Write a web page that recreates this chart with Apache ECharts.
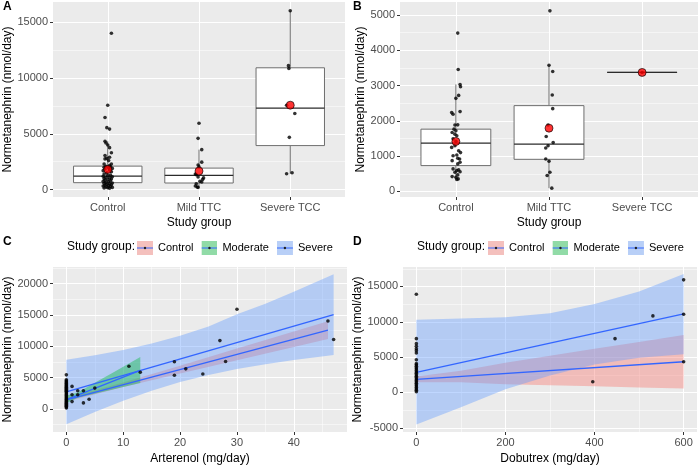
<!DOCTYPE html>
<html>
<head>
<meta charset="utf-8">
<script src="https://cdn.jsdelivr.net/npm/echarts@6/dist/echarts.min.js"></script>
<style>
  html, body { margin: 0; padding: 0; background: #fff; }
  #main { width: 699px; height: 465px; }
</style>
</head>
<body>
<div id="main"></div>
<script>
// ---- data ----
var groupsAB = ['Control', 'Mild TTC', 'Severe TCC'];
var legendNames = ['Control', 'Moderate', 'Severe'];

// box stats: [x, lower whisker, q1, median, q3, upper whisker]
var boxA = [[1, 120, 622, 1215, 2105, 4330], [2, 200, 593, 1275, 1927, 3580], [3, 1420, 3943, 7293, 10910, 16010]];
var meanA = [[1, 1808], [2, 1660], [3, 7560]];
var ctrlA = [[1.04, 14000], [1.00, 7550], [0.97, 6460], [0.99, 5550], [1.02, 5420], [0.97, 4330], [0.98, 4180], [1.00, 4000],
  [1.02, 3760], [1.04, 3300], [0.97, 3050], [1.02, 2900], [0.99, 2800], [0.97, 2750], [1.01, 2600], [1.04, 2300], [0.96, 2300],
  [1.02, 2150], [0.98, 2100], [1.03, 2050], [0.96, 2000], [1.01, 1950], [1.05, 1900], [0.97, 1850], [1.02, 1750], [0.95, 1700],
  [1.04, 1600], [0.99, 1500], [0.96, 1400], [1.03, 1300], [1.00, 1250], [0.95, 1200], [1.05, 1150], [0.98, 1100], [1.02, 1050],
  [0.96, 1000], [1.04, 950], [1.00, 900], [0.97, 850], [1.03, 800], [0.95, 750], [1.01, 700], [0.98, 650], [1.05, 600],
  [0.96, 560], [1.02, 520], [0.99, 480], [1.04, 440], [0.97, 400], [1.01, 360], [0.95, 320], [1.03, 280], [0.98, 240],
  [1.05, 200], [1.00, 170], [0.96, 150], [1.02, 120]];
var mildA = [[2.00, 5950], [1.99, 4590], [2.03, 3580], [2.03, 2460], [1.99, 2200], [2.00, 2050], [1.96, 1400], [1.97, 1330],
  [1.99, 1125], [2.05, 1050], [2.04, 915], [2.01, 740], [2.03, 680], [1.97, 530], [1.96, 330], [1.98, 240], [1.99, 200]];
var sevA = [[3.00, 16010], [2.98, 11100], [2.985, 10850], [2.96, 7560], [3.05, 6820], [2.99, 4680], [2.96, 1420], [3.02, 1510]];

var boxB = [[1, 340, 732, 1370, 1764, 3030], [2, 94, 910, 1341, 2430, 3574], [3, 3370, 3370, 3370, 3370, 3370]];
var meanB = [[1, 1416], [2, 1792], [3, 3370]];
var ctrlB = [[1.02, 4484], [1.025, 3452], [1.045, 3030], [1.05, 2964], [1.03, 2720], [1.00, 2636], [1.045, 2261], [0.955, 2233],
  [0.97, 2186], [1.02, 1886], [0.99, 1880], [0.98, 1764], [1.00, 1720], [0.96, 1670], [0.99, 1623], [1.01, 1576], [0.97, 1490],
  [1.00, 1420], [0.99, 1295], [0.955, 1248], [1.03, 1154], [1.05, 1100], [1.01, 1032], [0.97, 1013], [1.04, 919], [1.02, 940],
  [0.96, 872], [1.045, 825], [1.02, 780], [0.97, 638], [1.01, 591], [1.03, 610], [0.99, 544], [1.045, 560], [1.02, 469],
  [1.00, 403], [1.025, 356], [1.01, 340], [0.96, 420]];
var mildB = [[2.01, 5113], [2.00, 3574], [2.04, 3396], [2.035, 2730], [2.04, 2345], [1.99, 1880], [1.97, 1557], [2.045, 1388],
  [1.99, 1295], [1.965, 1229], [1.965, 919], [2.00, 854], [2.01, 544], [1.98, 450], [2.03, 94]];
var sevB = [[3.00, 3370]];

// panel C: arterenol vs normetanephrin
var ptsC = [[0, 5450], [0, 4650], [0, 4500], [0, 4350], [0, 4200], [0, 4050], [0, 3900], [0, 3750], [0, 3600], [0, 3450],
  [0, 3300], [0, 3150], [0, 3000], [0, 2850], [0, 2700], [0, 2550], [0, 2400], [0, 2250], [0, 2100], [0, 1950], [0, 1800],
  [0, 1650], [0, 1500], [0, 1350], [0, 1200], [0, 1050], [0, 900], [0, 750], [0, 600], [0, 450], [0, 300], [0, 150],
  [1, 3600], [1, 2260], [1, 1180], [2, 2900], [2, 2260], [3, 2900], [3, 970], [4, 1560], [5, 3330], [11, 6830], [13, 5860],
  [19, 7530], [19, 5380], [21, 6400], [24, 5590], [27, 10910], [28, 7580], [30, 15900], [46, 14030], [47, 11080]];
// ribbons: [x, lower, upper]
var ctrlRibC = [[0, 1150, 1750], [10, 3500, 4240], [20, 5680, 6900], [30, 7780, 9640], [40, 9900, 12360], [46, 11160, 14000]];
var sevRibC = [[0, -2450, 7850], [5, -470, 8570], [10, 1310, 9410], [15, 2910, 10430], [20, 4290, 11670], [25, 5430, 13150],
  [30, 6360, 15100], [35, 7135, 16800], [40, 7800, 18700], [47, 8600, 21500]];
var modRibC = [[0, 900, 2100], [2, 1800, 2640], [5, 2440, 4180], [8, 3080, 5720], [10, 3500, 6740], [13, 4140, 8280]];
var ctrlFitC = [[0, 1450], [46, 12580]];
var sevFitC = [[0, 2740], [47, 15050]];
var modFitC = [[0, 1500], [13, 6150]];

// panel D: dobutrex vs normetanephrin
var ptsD = [[0, 13900], [0, 7610], [0, 6900], [0, 6520], [0, 6190], [0, 5910], [0, 5580], [0, 4630], [0, 4070], [0, 3900],
  [0, 3700], [0, 3500], [0, 3300], [0, 3100], [0, 2900], [0, 2700], [0, 2500], [0, 2300], [0, 2100], [0, 1900], [0, 1700],
  [0, 1500], [0, 1300], [0, 1100], [0, 900], [0, 700], [0, 500], [0, 300], [0, 100],
  [396, 1510], [446, 7610], [531, 10830], [600, 15930], [600, 11060], [600, 4350]];
var ctrlRibD = [[0, 1440, 2240], [100, 1450, 3060], [200, 1150, 4200], [300, 1000, 5190], [400, 860, 6170], [500, 710, 7150], [600, 565, 8135]];
var sevRibD = [[0, -4550, 10300], [100, -2100, 10450], [200, 450, 10650], [300, 2400, 11200], [400, 3950, 12500], [500, 4900, 14300], [600, 5400, 16750]];
var ctrlFitD = [[0, 1840], [600, 4350]];
var sevFitD = [[0, 2840], [600, 11110]];

// tick values
var catTicks = [1, 2, 3];
var ticksA = [0, 5000, 10000, 15000], minorA = [2500, 7500, 12500];
var ticksB = [0, 1000, 2000, 3000, 4000, 5000], minorB = [500, 1500, 2500, 3500, 4500];
var ticksCx = [0, 10, 20, 30, 40], minorCx = [5, 15, 25, 35, 45];
var ticksCy = [0, 5000, 10000, 15000, 20000], minorCy = [-2500, 2500, 7500, 12500, 17500, 22500];
var ticksDx = [0, 200, 400, 600], minorDx = [100, 300, 500];
var ticksDy = [-5000, 0, 5000, 10000, 15000], minorDy = [-2500, 2500, 7500, 12500, 17500];

// ---- styling helpers ----
var font = 'Liberation Sans, Arial, sans-serif';
var fills = {Control: 'rgba(248,118,109,0.4)', Moderate: 'rgba(0,186,56,0.4)', Severe: 'rgba(97,156,255,0.4)'};
var fitColor = '#3366ff';

function fmtNum(v) { return String(v); }
function fmtGroup(v) { return groupsAB[v - 1]; }

function mainAxis(grid, min, max, ticks, fmt, name, gap, pos) {
    return {
        type: 'value', gridIndex: grid, min: min, max: max, position: pos,
        name: name, nameLocation: 'middle', nameGap: gap,
        nameTextStyle: {color: '#000', fontSize: 12, fontFamily: font},
        axisLine: {show: false, onZero: false},
        axisTick: {show: true, length: 3, customValues: ticks, lineStyle: {color: '#333', width: 1}},
        axisLabel: {customValues: ticks, formatter: fmt, color: '#4d4d4d', fontSize: 11, margin: 5, fontFamily: font},
        splitLine: {show: true, lineStyle: {color: '#fff', width: 1.1}},
        minorSplitLine: {show: false}
    };
}
function minorAxis(grid, min, max, minor, pos) {
    return {
        type: 'value', gridIndex: grid, min: min, max: max, position: pos,
        axisLine: {show: false, onZero: false},
        axisTick: {show: false, customValues: minor},
        axisLabel: {show: false, customValues: minor},
        splitLine: {show: true, lineStyle: {color: '#fff', width: 0.5}}
    };
}

function renderBox(params, api) {
    var x = api.value(0), hw = 0.375;
    var lo = api.coord([x - hw, api.value(2)]);
    var hi = api.coord([x + hw, api.value(4)]);
    var top = api.coord([x, api.value(5)]);
    var bot = api.coord([x, api.value(1)]);
    var mL = api.coord([x - hw, api.value(3)]);
    var mR = api.coord([x + hw, api.value(3)]);
    var edge = {stroke: '#6e6e6e', lineWidth: 1, fill: null};
    return {type: 'group', children: [
        {type: 'line', shape: {x1: top[0], y1: top[1], x2: top[0], y2: hi[1]}, style: edge},
        {type: 'line', shape: {x1: bot[0], y1: bot[1], x2: bot[0], y2: lo[1]}, style: edge},
        {type: 'rect', shape: {x: lo[0], y: hi[1], width: hi[0] - lo[0], height: lo[1] - hi[1]},
            style: {fill: '#fff', stroke: '#6e6e6e', lineWidth: 1}},
        {type: 'line', shape: {x1: mL[0], y1: mL[1], x2: mR[0], y2: mR[1]}, style: {stroke: '#2b2b2b', lineWidth: 1.3}}
    ]};
}

function boxPanel(box, pts, means, xi, yi) {
    return [
        {type: 'custom', xAxisIndex: xi, yAxisIndex: yi, data: box, renderItem: renderBox,
            encode: {x: 0, y: [1, 2, 3, 4, 5]}, silent: true, z: 2},
        {type: 'scatter', xAxisIndex: xi, yAxisIndex: yi, data: pts, symbolSize: 3.6,
            itemStyle: {color: '#000'}, silent: true, z: 3},
        {type: 'scatter', xAxisIndex: xi, yAxisIndex: yi, data: means, symbolSize: 8,
            itemStyle: {color: '#ff0000', borderColor: '#000', borderWidth: 0.8}, silent: true, z: 4}
    ];
}

// confidence band: one polygon through all [x, lower, upper] rows
function ribbon(rows, name, xi, yi) {
    return {
        type: 'custom', name: name, xAxisIndex: xi, yAxisIndex: yi, data: rows,
        encode: {x: 0, y: [1, 2]}, silent: true, clip: true, z: 2,
        itemStyle: {color: fills[name]},
        renderItem: function (params, api) {
            if (params.dataIndexInside !== 0) return null;
            var upper = [], lower = [];
            for (var i = 0; i < params.dataInsideLength; i++) {
                upper.push(api.coord([api.value(0, i), api.value(2, i)]));
                lower.unshift(api.coord([api.value(0, i), api.value(1, i)]));
            }
            return {type: 'polygon', shape: {points: upper.concat(lower)}, style: {fill: fills[name]}};
        }
    };
}

function fit(data, xi, yi) {
    return {type: 'line', xAxisIndex: xi, yAxisIndex: yi, data: data, symbol: 'none', silent: true,
        lineStyle: {color: fitColor, width: 1.4}, z: 3};
}

function keyIcon(fill) {
    var svg = '<svg xmlns="http://www.w3.org/2000/svg" width="32" height="28" viewBox="0 0 16 14">' +
        '<rect width="16" height="14" fill="#f2f2f2"/>' +
        '<rect width="16" height="14" fill="' + fill + '"/>' +
        '<line x1="0" y1="7" x2="16" y2="7" stroke="#3366ff" stroke-width="1"/>' +
        '<circle cx="8" cy="7" r="1.2" fill="#222"/></svg>';
    return 'image://data:image/svg+xml;charset=utf-8,' + encodeURIComponent(svg);
}

function legendAt(left) {
    return {
        left: left, top: 241, orient: 'horizontal', itemWidth: 16, itemHeight: 14, itemGap: 8,
        selectedMode: false, padding: 0,
        textStyle: {fontSize: 11, color: '#000', fontFamily: font},
        data: legendNames.map(function (n) { return {name: n, icon: keyIcon(fills[n])}; })
    };
}

function tag(text, left, top) {
    return {text: text, left: left, top: top, padding: 0,
        textStyle: {fontSize: 12, fontWeight: 'bold', color: '#000', fontFamily: font}};
}

var gridStyle = {show: true, backgroundColor: '#ebebeb', borderWidth: 0, containLabel: false, outerBoundsMode: 'none'};

var chart = echarts.init(document.getElementById('main'), null, {renderer: 'canvas'});
chart.setOption({
    animation: false,
    backgroundColor: '#fff',
    title: [
        tag('A', 3, 1), tag('B', 353, 1), tag('C', 3, 236), tag('D', 353, 236),
        {text: 'Study group:', left: 67, top: 241, padding: 0, textStyle: {fontSize: 12, fontWeight: 'normal', color: '#000', fontFamily: font}},
        {text: 'Study group:', left: 417, top: 241, padding: 0, textStyle: {fontSize: 12, fontWeight: 'normal', color: '#000', fontFamily: font}}
    ],
    legend: [legendAt(137), legendAt(488)],
    grid: [
        echarts.util.extend({left: 53, right: 354, top: 2, bottom: 268}, gridStyle),
        echarts.util.extend({left: 400, right: 1, top: 2, bottom: 268}, gridStyle),
        echarts.util.extend({left: 53, right: 352, top: 267, bottom: 33}, gridStyle),
        echarts.util.extend({left: 403, right: 2, top: 267, bottom: 33}, gridStyle)
    ],
    xAxis: [
        mainAxis(0, 0.4, 3.6, catTicks, fmtGroup, 'Study group', 20, 'bottom'),
        mainAxis(1, 0.4, 3.6, catTicks, fmtGroup, 'Study group', 20, 'bottom'),
        mainAxis(2, -2.35, 49.35, ticksCx, fmtNum, 'Arterenol (mg/day)', 21, 'bottom'),
        minorAxis(2, -2.35, 49.35, minorCx, 'top'),
        mainAxis(3, -30, 630, ticksDx, fmtNum, 'Dobutrex (mg/day)', 21, 'bottom'),
        minorAxis(3, -30, 630, minorDx, 'top')
    ],
    yAxis: [
        mainAxis(0, -660, 16800, ticksA, fmtNum, 'Normetanephrin (nmol/day)', 32, 'left'),
        minorAxis(0, -660, 16800, minorA, 'right'),
        mainAxis(1, -157, 5364, ticksB, fmtNum, 'Normetanephrin (nmol/day)', 30, 'left'),
        minorAxis(1, -157, 5364, minorB, 'right'),
        mainAxis(2, -3670, 22650, ticksCy, fmtNum, 'Normetanephrin (nmol/day)', 32, 'left'),
        minorAxis(2, -3670, 22650, minorCy, 'right'),
        mainAxis(3, -5600, 17750, ticksDy, fmtNum, 'Normetanephrin (nmol/day)', 29, 'left'),
        minorAxis(3, -5600, 17750, minorDy, 'right')
    ],
    series: [].concat(
        boxPanel(boxA, ctrlA.concat(mildA, sevA), meanA, 0, 0),
        boxPanel(boxB, ctrlB.concat(mildB, sevB), meanB, 1, 2),
        [ribbon(ctrlRibC, 'Control', 2, 4), ribbon(sevRibC, 'Severe', 2, 4), ribbon(modRibC, 'Moderate', 2, 4),
         fit(ctrlFitC, 2, 4), fit(sevFitC, 2, 4), fit(modFitC, 2, 4),
         {type: 'scatter', xAxisIndex: 2, yAxisIndex: 4, data: ptsC, symbolSize: 3.6, itemStyle: {color: '#000'}, silent: true, z: 4},
         ribbon(ctrlRibD, 'Control', 4, 6), ribbon(sevRibD, 'Severe', 4, 6),
         fit(ctrlFitD, 4, 6), fit(sevFitD, 4, 6),
         {type: 'scatter', xAxisIndex: 4, yAxisIndex: 6, data: ptsD, symbolSize: 3.6, itemStyle: {color: '#000'}, silent: true, z: 4}]
    )
});
</script>
</body>
</html>
